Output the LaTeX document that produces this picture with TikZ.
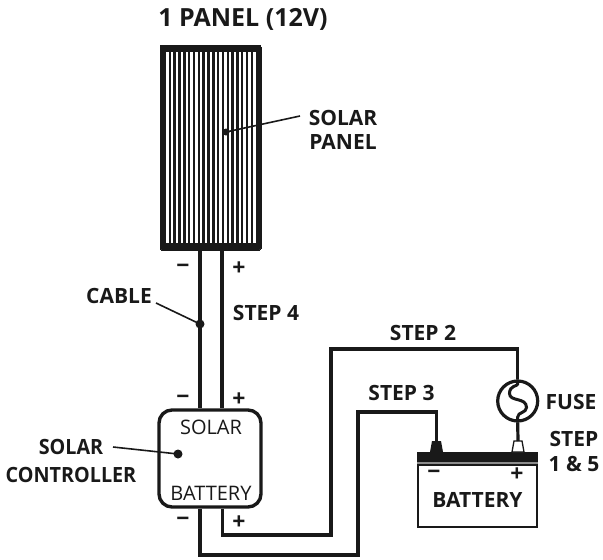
\documentclass[tikz,border=0pt]{standalone}
\usepackage{fontspec}
\setmainfont{Open Sans}
\begin{document}
\begin{tikzpicture}[x=1pt,y=-1pt,
  wire/.style={line width=3.2pt,line join=miter,black!90},
  leader/.style={line width=1.6pt,black!90},
  dotmark/.style={circle,fill=black!90,inner sep=0pt,minimum size=9pt},
  lbl/.style={font=\bfseries\fontsize{21}{24}\selectfont,inner sep=0pt,text=black!90,align=center},
  lblthin/.style={font=\fontsize{20}{24}\selectfont,inner sep=0pt,text=black!90},
  sign/.style={font=\bfseries\fontsize{23}{23}\selectfont,inner sep=0pt,text=black!90}]
\useasboundingbox (0,0) rectangle (603,560);
% panel
\node[draw=black!90,fill=black!90,line width=0pt,rounded corners=2pt,minimum width=101pt,minimum height=205pt,inner sep=0pt] (panel) at (210.5,147.5) {};
\foreach \i in {0,...,18}{\fill[white] (166.2+\i*4.83,52) rectangle ++(2.4,191);}
\node[lbl] (title) at (243,19) {\fontsize{25}{28}\selectfont 1 PANEL (12V)};
% controller
\node[draw=black!90,line width=3.4pt,rounded corners=13pt,minimum width=102pt,minimum height=97pt,inner sep=0pt,fill=white] (ctrl) at (210,458.5) {};
\node[lblthin] (csolar) at (211,427) {SOLAR};
\node[lblthin] (cbatt) at (211,493) {BATTERY};
% battery
\fill[black!90] (417,452) rectangle (538,462);
\fill[black!45] (417,462) rectangle (538,464);
\node[draw=black!90,line width=1.5pt,minimum width=119pt,minimum height=62pt,inner sep=0pt] (batt) at (477.5,496) {};
\node[lbl,font=\bfseries\fontsize{21}{24}\selectfont] (battlabel) at (477.5,500) {BATTERY};
% terminals
\fill[black!90] (430,452) -- (432,441) -- (441,441) -- (443,452) -- cycle;
\coordinate (tneg) at (436.5,441);
\draw[line width=1.3pt,black!90,fill=white] (512,452) -- (514,441) -- (522,441) -- (524,452) -- cycle;
\coordinate (tpos) at (518,441);
% fuse
\node[circle,draw=black!90,line width=3.2pt,minimum size=40pt,inner sep=0pt] (fuse) at (517.7,401) {};
\draw[line width=3pt,black!90] (fuse.north) -- (517.7,384) .. controls (517.7,386.5) and (509.5,385) .. (509.5,393.5) .. controls (509.5,402) and (526.5,397) .. (526.5,407.5) .. controls (526.5,413) and (517.7,412) .. (517.7,417) -- (fuse.south);
% panel wires
\draw[wire] (panel.south -| 200,0) -- (ctrl.north -| 200,0);
\draw[wire] (panel.south -| 222,0) -- (ctrl.north -| 222,0);
% step 2
\coordinate (a1) at (222.5,535);
\coordinate (a2) at (331,535);
\coordinate (a3) at (331,349);
\coordinate (a4) at (517.7,349);
\draw[wire] (ctrl.south -| a1) -- (a1) -- (a2) -- (a3) -- (a4) -- (fuse.north);
\draw[wire] (fuse.south) -- (tpos);
% step 3
\coordinate (b1) at (200,555);
\coordinate (b2) at (358,555);
\coordinate (b3) at (358,412);
\coordinate (b4) at (436.5,412);
\draw[wire] (ctrl.south -| b1) -- (b1) -- (b2) -- (b3) -- (b4) -- (tneg);
% signs
\foreach \n/\x/\y/\s in {s1/183/269/{−},s2/239/269/+,s3/183/400/{−},s4/239/400/+,s5/183/522/{−},s6/239/523/+,s7/434/475/{−},s8/517/475/+}{
  \node[sign] (\n) at (\x,\y) {\s};}
% labels
\node[lbl] (solarpanel) at (343,130) {SOLAR\\PANEL};
\node[dotmark,minimum size=7pt] (d1) at (226,132) {};
\draw[leader] (d1.center) -- (300,116) coordinate (e1);
\node[lbl,anchor=east] (cable) at (152,296) {CABLE};
\node[dotmark] (d2) at (200,324) {};
\coordinate (e2) at (156,303);
\draw[leader] (e2) -- (d2.center);
\node[lbl,xscale=0.94] (sc) at (71,461) {SOLAR\\[4pt]CONTROLLER};
\node[dotmark] (d3) at (178,454) {};
\coordinate (e3) at (113,447);
\draw[leader] (e3) -- (d3.center);
\node[lbl] (s4l) at (266,313) {STEP 4};
\node[lbl] (s2l) at (423,333) {STEP 2};
\node[lbl] (s3l) at (401.5,393) {STEP 3};
\node[lbl] (fl) at (571,402) {FUSE};
\node[lbl] (s15) at (574,451) {STEP\\[1pt]1 \& 5};
\end{tikzpicture}
\end{document}
